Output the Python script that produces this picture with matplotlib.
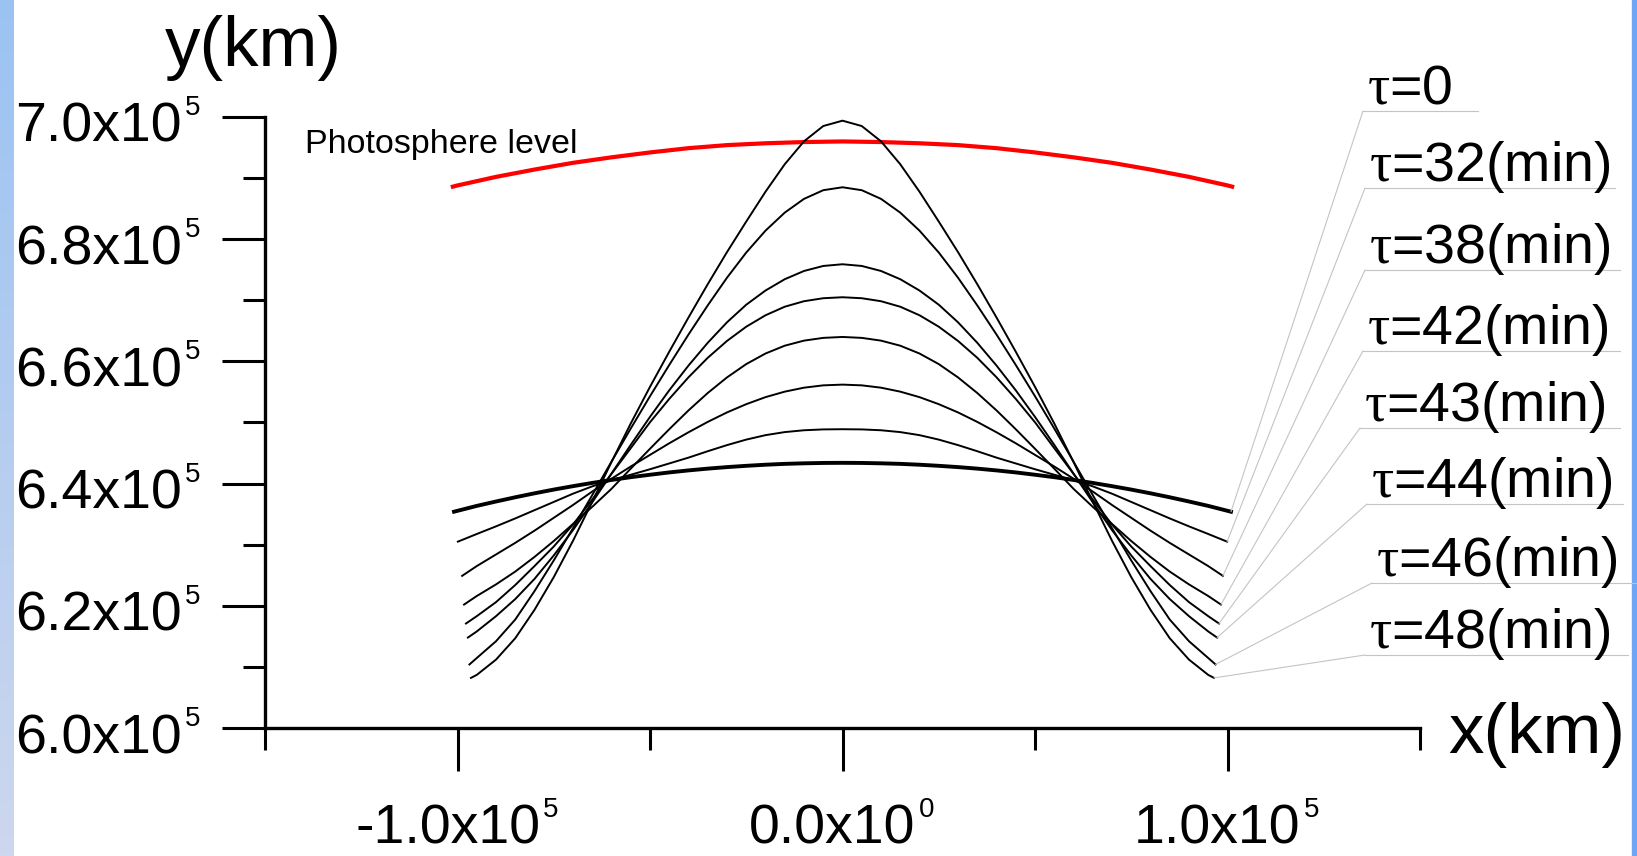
import numpy as np
import matplotlib
matplotlib.use("Agg")
import matplotlib.pyplot as plt
from matplotlib.lines import Line2D
from matplotlib.patches import Rectangle
from matplotlib.ticker import FixedLocator

plt.rcParams['font.family'] = ['Liberation Sans', 'DejaVu Sans']
plt.rcParams['mathtext.fontset'] = 'custom'
plt.rcParams['mathtext.rm'] = 'Liberation Sans'
plt.rcParams['mathtext.it'] = 'Liberation Serif'   # upright serif tau
plt.rcParams['mathtext.bf'] = 'Liberation Sans:bold'

# ---- data (units of 1e5 km), right half, mirrored for the left half ----
x_half = [0.0, 0.05, 0.1, 0.15, 0.2, 0.25, 0.3, 0.35, 0.4, 0.45,
          0.5, 0.55, 0.6, 0.65, 0.7, 0.75, 0.8, 0.85, 0.9, 0.95]
tau_labels = [r'$\tau$=0', r'$\tau$=32(min)', r'$\tau$=38(min)', r'$\tau$=42(min)',
              r'$\tau$=43(min)', r'$\tau$=44(min)', r'$\tau$=46(min)', r'$\tau$=48(min)']
y_tau0 = [6.4340, 6.4338, 6.4332, 6.4323, 6.4309, 6.4291, 6.4270, 6.4245, 6.4216, 6.4183,
          6.4145, 6.4105, 6.4060, 6.4011, 6.3958, 6.3902, 6.3841, 6.3776, 6.3707, 6.3635]
y_tau32 = [6.4890, 6.4887, 6.4873, 6.4843, 6.4793, 6.4720, 6.4630, 6.4530, 6.4425, 6.4330,
           6.4235, 6.4145, 6.4055, 6.3955, 6.3835, 6.3700, 6.3565, 6.3430, 6.3300, 6.3175]
y_tau38 = [6.5620, 6.5608, 6.5570, 6.5505, 6.5415, 6.5300, 6.5165, 6.5010, 6.4840, 6.4660,
           6.4470, 6.4280, 6.4080, 6.3870, 6.3650, 6.3440, 6.3230, 6.3030, 6.2840, 6.2650]
y_tau42 = [6.6400, 6.6385, 6.6340, 6.6257, 6.6129, 6.5956, 6.5738, 6.5483, 6.5198, 6.4890,
           6.4570, 6.4245, 6.3915, 6.3620, 6.3340, 6.3060, 6.2800, 6.2560, 6.2350, 6.2160]
y_tau43 = [6.7050, 6.7034, 6.6985, 6.6895, 6.6755, 6.6568, 6.6335, 6.6059, 6.5740, 6.5386,
           6.5004, 6.4580, 6.4160, 6.3740, 6.3330, 6.2970, 6.2650, 6.2340, 6.2060, 6.1830]
y_tau44 = [6.7590, 6.7562, 6.7480, 6.7345, 6.7160, 6.6928, 6.6640, 6.6305, 6.5932, 6.5527,
           6.5092, 6.4634, 6.4164, 6.3694, 6.3239, 6.2824, 6.2440, 6.2110, 6.1830, 6.1580]
y_tau46 = [6.8850, 6.8802, 6.8660, 6.8435, 6.8140, 6.7782, 6.7370, 6.6917, 6.6440, 6.5942,
           6.5430, 6.4902, 6.4360, 6.3812, 6.3270, 6.2742, 6.2240, 6.1775, 6.1420, 6.1145]
y_tau48 = [6.9940, 6.9852, 6.9602, 6.9227, 6.8777, 6.8289, 6.7789, 6.7264, 6.6719, 6.6159,
           6.5584, 6.4984, 6.4354, 6.3704, 6.3064, 6.2469, 6.1934, 6.1469, 6.1119, 6.0869]
x_end = [1.009, 0.999, 0.988, 0.983, 0.978, 0.973, 0.969, 0.965]
y_end = [6.354, 6.305, 6.249, 6.202, 6.171, 6.148, 6.104, 6.082]
curves = [y_tau0, y_tau32, y_tau38, y_tau42, y_tau43, y_tau44, y_tau46, y_tau48]

x_photo = [0.0, 0.1, 0.2, 0.3, 0.4, 0.5, 0.6, 0.7, 0.8, 0.9, 1.0]
y_photo = [6.960, 6.959, 6.957, 6.954, 6.949, 6.942, 6.934, 6.925, 6.914, 6.902, 6.888]
x_photo_end, y_photo_end = 1.012, 6.886

x_major = [-1.0e5, 0.0, 1.0e5]
x_minor = [-1.5e5, -0.5e5, 0.5e5, 1.5e5]
x_tick_base = ['-1.0x10', '0.0x10', '1.0x10']
x_tick_exp = ['5', '0', '5']
y_major = [6.0e5, 6.2e5, 6.4e5, 6.6e5, 6.8e5, 7.0e5]
y_minor = [6.1e5, 6.3e5, 6.5e5, 6.7e5, 6.9e5]
y_tick_base = ['6.0x10', '6.2x10', '6.4x10', '6.6x10', '6.8x10', '7.0x10']
y_tick_exp = ['5', '5', '5', '5', '5', '5']

# label boxes: underline y, underline x0, x1 (figure pixels from top-left)
lab_y = [111, 188, 270, 351, 428, 504, 583, 655]
lab_x0 = [1363, 1365, 1365, 1363, 1360, 1367, 1372, 1365]
lab_x1 = [1478, 1615, 1620, 1620, 1620, 1623, 1637, 1628]


def mirror(xh, yh, xe, ye):
    xs = np.array(list(xh) + [xe])
    ys = np.array(list(yh) + [ye])
    return np.concatenate([-xs[::-1], xs[1:]]) * 1e5, np.concatenate([ys[::-1], ys[1:]]) * 1e5


W, H = 1637, 856
fig = plt.figure(figsize=(W / 100, H / 100), dpi=100)

# blue frame strips
gax = fig.add_axes([0, 0, 14 / W, 1])
c_top = np.array([155, 195, 242]) / 255
c_bot = np.array([205, 215, 238]) / 255
t = np.linspace(0, 1, 256)[:, None, None]
gax.imshow(c_top * (1 - t) + c_bot * t, aspect='auto')
gax.axis('off')
fig.add_artist(Rectangle((1632 / W, 0), 5 / W, 1, transform=fig.transFigure,
                         color=(0.43, 0.65, 0.96), zorder=0))

ax = fig.add_axes([265 / W, 1 - 728 / H, (1420 - 265) / W, (728 - 117) / H])
ax.set_xlim(-1.5e5, 1.5e5)
ax.set_ylim(6.0e5, 7.0e5)
for s in ['top', 'right']:
    ax.spines[s].set_visible(False)
for s in ['left', 'bottom']:
    ax.spines[s].set_linewidth(2.4)

ax.xaxis.set_major_locator(FixedLocator(x_major))
ax.xaxis.set_minor_locator(FixedLocator(x_minor))
ax.yaxis.set_major_locator(FixedLocator(y_major))
ax.yaxis.set_minor_locator(FixedLocator(y_minor))
ax.tick_params(which='major', direction='out', length=31, width=2.2,
               labelbottom=False, labelleft=False)
ax.tick_params(which='minor', direction='out', length=16, width=2.2)

# tick labels drawn by hand: big mantissa, small raised exponent
renderer = fig.canvas.get_renderer()
for v, b, e in zip(y_major, y_tick_base, y_tick_exp):
    yt = ax.transData.transform((0, v))[1]
    ax.text(182, yt - 25, b, fontsize=40, ha='right', va='baseline', transform=None)
    ax.text(185, yt + 2, e, fontsize=20, ha='left', va='baseline', transform=None)
x_base_line = H - 844
for v, b, e in zip(x_major, x_tick_base, x_tick_exp):
    xt = ax.transData.transform((v, 0))[0]
    tb = ax.text(xt - 10, x_base_line, b, fontsize=40, ha='center', va='baseline',
                 transform=None)
    bb = tb.get_window_extent(renderer=renderer)
    ax.text(bb.x1 + 3, x_base_line + 27, e, fontsize=20, ha='left', va='baseline',
            transform=None)

xp, yp = mirror(x_photo, y_photo, x_photo_end, y_photo_end)
ax.plot(xp, yp, color='red', lw=3.0, clip_on=False)
ax.text(305, H - 153, 'Photosphere level', fontsize=24.5, va='baseline',
        transform=None)

for i, yc in enumerate(curves):
    xc, ycv = mirror(x_half, yc, x_end[i], y_end[i])
    ax.plot(xc, ycv, color='black', lw=2.8 if i == 0 else 1.4, clip_on=False)

for i, lab in enumerate(tau_labels):
    yy = H - lab_y[i]
    fig.add_artist(Line2D([lab_x0[i] / W, lab_x1[i] / W], [yy / H, yy / H],
                          transform=fig.transFigure, color='#c4c4c4', lw=0.8))
    ax.annotate('', xy=(x_end[i] * 1e5, y_end[i] * 1e5), xycoords='data',
                xytext=(lab_x0[i], yy), textcoords='figure pixels',
                arrowprops=dict(arrowstyle='-', color='#c4c4c4', lw=0.8,
                                shrinkA=0, shrinkB=0),
                annotation_clip=False)
    fig.text((lab_x0[i] + 4) / W, (yy + 7) / H, lab, fontsize=40, va='baseline')

fig.text(253 / W, 1 - 48 / H, 'y(km)', fontsize=51, ha='center', va='center')
fig.text(1537 / W, 1 - 735 / H, 'x(km)', fontsize=51, ha='center', va='center')

fig.savefig('out.png', dpi=100)
